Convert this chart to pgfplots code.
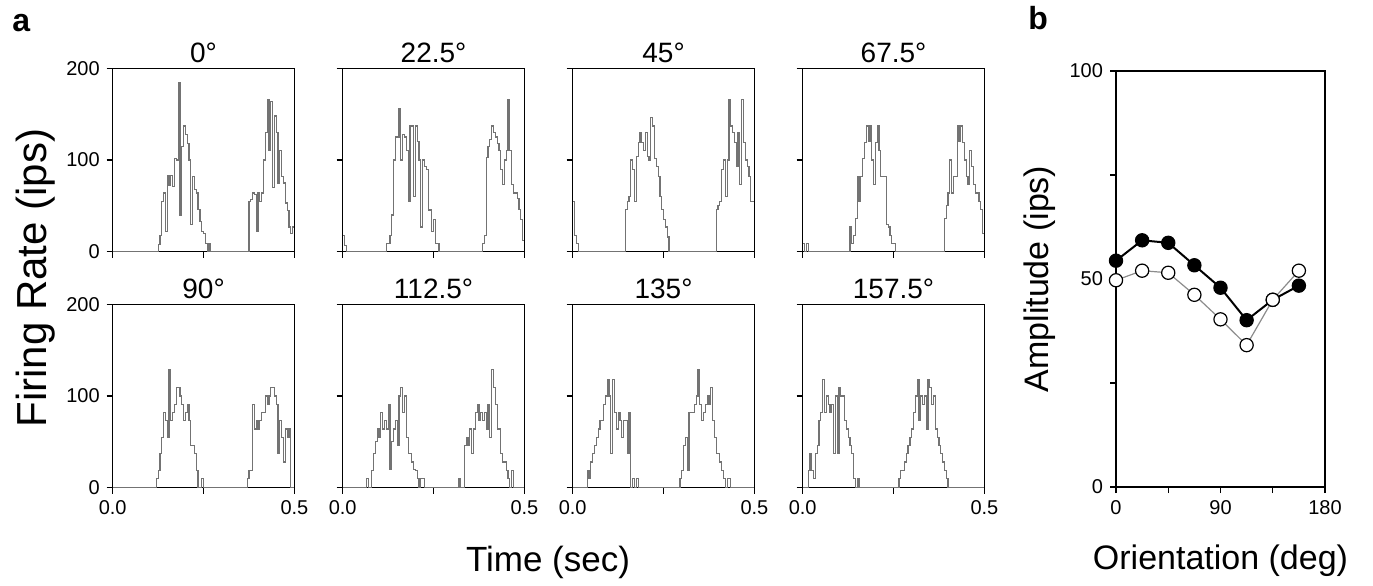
\documentclass[border=0pt]{standalone}
\usepackage{fontspec}
\setmainfont{Liberation Sans}
\usepackage{pgfplots}
\pgfplotsset{compat=1.18}

\pgfplotsset{
  frame/.style={
    scale only axis, anchor=south west,
    tick align=outside, tick pos=left, major tick length=3pt,
    axis line style={line width=0.65pt},
    every tick/.style={black, line width=0.65pt},
    tick label style={font=\fontsize{10}{11}\selectfont},
    /pgf/number format/assume math mode=true,
  },
  psth/.style={
    frame, width=90.85pt, height=91.7pt,
    xmin=0, xmax=0.5, ymin=0, ymax=200,
    xtick={0,0.25,0.5}, ytick={0,100,200},
    xticklabels={}, yticklabels={},
    title style={font=\fontsize{14}{14}\selectfont, anchor=base, inner sep=0pt,
                 at={(0.5,1)}, yshift=-3pt},
  },
  hist/.style={const plot mark left, black!55, line width=0.6pt, mark=none},
}

\begin{document}
\begin{tikzpicture}
\useasboundingbox (0pt,0pt) rectangle (686.5pt,292.5pt);

% panel labels and shared axis titles
\node[anchor=base west, inner sep=0pt, font=\bfseries\fontsize{16}{16}\selectfont] at (6pt,276.5pt) {a};
\node[anchor=base west, inner sep=0pt, font=\bfseries\fontsize{16}{16}\selectfont] at (514pt,277.5pt) {b};
\node[rotate=90, anchor=base, inner sep=0pt, font=\fontsize{21}{21}\selectfont] at (23.5pt,153.5pt) {Firing Rate (ips)};
\node[anchor=base, inner sep=0pt, font=\fontsize{17.5}{17.5}\selectfont] at (274pt,7pt) {Time (sec)};

% ---- top row ----
\begin{axis}[psth, at={(56.35pt,166.65pt)}, title={0°}, yticklabels={0,100,200}]
\addplot[hist] coordinates {(0,0) (0.120,0) (0.125,8) (0.130,18) (0.135,55) (0.140,64) (0.145,22) (0.150,83) (0.155,72) (0.160,83) (0.165,71) (0.170,102) (0.175,100) (0.180,184) (0.185,40) (0.190,115) (0.195,137) (0.200,128) (0.205,118) (0.210,100) (0.215,30) (0.220,82) (0.225,68) (0.230,64) (0.235,46) (0.240,33) (0.245,22) (0.250,20) (0.255,9) (0.260,0) (0.265,9) (0.270,0) (0.370,0) (0.375,55) (0.380,57) (0.385,64) (0.390,62) (0.395,22) (0.400,64) (0.405,55) (0.410,64) (0.415,100) (0.420,130) (0.425,166) (0.430,110) (0.435,164) (0.440,70) (0.445,148) (0.450,130) (0.455,75) (0.460,110) (0.465,82) (0.470,75) (0.475,53) (0.480,45) (0.485,27) (0.490,20) (0.495,27) (0.500,27)};
\end{axis}

\begin{axis}[psth, at={(171.35pt,166.65pt)}, title={22.5°}]
\addplot[hist] coordinates {(0,18) (0.005,7) (0.010,0) (0.115,0) (0.120,9) (0.125,9) (0.130,18) (0.135,40) (0.140,100) (0.145,125) (0.150,125) (0.155,156) (0.160,100) (0.165,128) (0.170,125) (0.175,110) (0.180,55) (0.185,137) (0.190,137) (0.195,60) (0.200,137) (0.205,120) (0.210,100) (0.215,27) (0.220,100) (0.225,93) (0.230,90) (0.235,45) (0.240,46) (0.245,22) (0.250,35) (0.255,9) (0.260,9) (0.265,0) (0.380,0) (0.385,9) (0.390,18) (0.395,103) (0.400,115) (0.405,122) (0.410,137) (0.415,130) (0.420,125) (0.425,118) (0.430,110) (0.435,90) (0.440,73) (0.445,100) (0.450,110) (0.455,166) (0.460,110) (0.465,73) (0.470,64) (0.475,64) (0.480,58) (0.485,46) (0.490,35) (0.495,12) (0.500,12)};
\end{axis}

\begin{axis}[psth, at={(286.35pt,166.65pt)}, title={45°}]
\addplot[hist] coordinates {(0,55) (0.005,18) (0.010,9) (0.015,0) (0.140,0) (0.145,46) (0.150,55) (0.155,60) (0.160,100) (0.165,90) (0.170,55) (0.175,104) (0.180,119) (0.185,130) (0.190,119) (0.195,110) (0.200,130) (0.205,104) (0.210,100) (0.215,146) (0.220,137) (0.225,102) (0.230,93) (0.235,82) (0.240,60) (0.245,46) (0.250,35) (0.255,27) (0.260,16) (0.265,0) (0.390,0) (0.395,46) (0.400,50) (0.405,55) (0.410,90) (0.415,100) (0.420,60) (0.425,100) (0.430,166) (0.435,137) (0.440,130) (0.445,119) (0.450,93) (0.455,130) (0.460,73) (0.465,166) (0.470,119) (0.475,100) (0.480,93) (0.485,82) (0.490,55) (0.495,55) (0.500,55)};
\end{axis}

\begin{axis}[psth, at={(401.35pt,166.65pt)}, title={67.5°}]
\addplot[hist] coordinates {(0,9) (0.005,0) (0.010,9) (0.015,0) (0.125,0) (0.130,27) (0.135,9) (0.140,18) (0.145,36) (0.150,82) (0.155,55) (0.160,82) (0.165,102) (0.170,119) (0.175,137) (0.180,120) (0.185,137) (0.190,100) (0.195,73) (0.200,119) (0.205,137) (0.210,110) (0.215,82) (0.220,82) (0.225,82) (0.230,30) (0.235,27) (0.240,18) (0.245,9) (0.250,9) (0.255,0) (0.385,0) (0.390,36) (0.395,50) (0.400,64) (0.405,100) (0.410,64) (0.415,82) (0.420,82) (0.425,137) (0.430,120) (0.435,137) (0.440,119) (0.445,100) (0.450,82) (0.455,73) (0.460,110) (0.465,93) (0.470,73) (0.475,64) (0.480,64) (0.485,55) (0.490,46) (0.495,20) (0.500,20)};
\end{axis}

% ---- bottom row ----
\begin{axis}[psth, at={(56.35pt,48.65pt)}, title={90°}, yticklabels={0,100,200}, xticklabels={0.0,,0.5}]
\addplot[hist] coordinates {(0,0) (0.115,0) (0.120,10) (0.125,19) (0.130,37) (0.135,55) (0.140,82) (0.145,73) (0.150,55) (0.155,129) (0.160,73) (0.165,82) (0.170,91) (0.175,109) (0.180,109) (0.185,100) (0.190,91) (0.195,73) (0.200,82) (0.205,91) (0.210,73) (0.215,46) (0.220,46) (0.225,37) (0.230,19) (0.235,0) (0.245,10) (0.250,0) (0.365,0) (0.370,10) (0.375,19) (0.380,19) (0.385,91) (0.390,64) (0.395,73) (0.400,64) (0.405,73) (0.410,82) (0.415,82) (0.420,100) (0.425,91) (0.430,100) (0.435,109) (0.440,109) (0.445,100) (0.450,91) (0.455,37) (0.460,73) (0.465,55) (0.470,28) (0.475,64) (0.480,55) (0.485,64) (0.490,0) (0.500,0)};
\end{axis}

\begin{axis}[psth, at={(171.35pt,48.65pt)}, title={112.5°}, xticklabels={0.0,,0.5}]
\addplot[hist] coordinates {(0,0) (0.060,0) (0.065,10) (0.070,0) (0.080,19) (0.085,37) (0.090,50) (0.095,64) (0.100,55) (0.105,82) (0.110,64) (0.115,73) (0.120,64) (0.125,91) (0.130,20) (0.135,50) (0.140,64) (0.145,73) (0.150,46) (0.155,100) (0.160,109) (0.165,82) (0.170,100) (0.175,55) (0.180,37) (0.185,37) (0.190,28) (0.195,20) (0.200,19) (0.205,10) (0.210,0) (0.215,10) (0.220,10) (0.225,0) (0.315,0) (0.320,10) (0.325,0) (0.335,46) (0.340,55) (0.345,46) (0.350,64) (0.355,37) (0.360,64) (0.365,82) (0.370,91) (0.375,73) (0.380,82) (0.385,73) (0.390,82) (0.395,64) (0.400,91) (0.405,55) (0.410,129) (0.415,109) (0.420,91) (0.425,64) (0.430,64) (0.435,37) (0.440,28) (0.445,28) (0.450,19) (0.455,10) (0.460,0) (0.465,19) (0.470,0) (0.500,0)};
\end{axis}

\begin{axis}[psth, at={(286.35pt,48.65pt)}, title={135°}, xticklabels={0.0,,0.5}]
\addplot[hist] coordinates {(0,0) (0.035,0) (0.040,19) (0.045,10) (0.050,28) (0.055,37) (0.060,46) (0.065,55) (0.070,64) (0.075,73) (0.080,73) (0.085,91) (0.090,100) (0.095,118) (0.100,100) (0.105,37) (0.110,118) (0.115,82) (0.120,64) (0.125,82) (0.130,73) (0.135,55) (0.140,73) (0.145,73) (0.150,37) (0.155,82) (0.160,0) (0.165,10) (0.170,0) (0.175,10) (0.180,0) (0.290,0) (0.295,10) (0.300,19) (0.305,46) (0.310,55) (0.315,19) (0.320,82) (0.325,82) (0.330,82) (0.335,91) (0.340,100) (0.345,129) (0.350,91) (0.355,73) (0.360,82) (0.365,91) (0.370,100) (0.375,91) (0.380,109) (0.385,73) (0.390,55) (0.395,37) (0.400,37) (0.405,28) (0.410,19) (0.415,10) (0.420,0) (0.425,10) (0.430,10) (0.435,0) (0.500,0)};
\end{axis}

\begin{axis}[psth, at={(401.35pt,48.65pt)}, title={157.5°}, xticklabels={0.0,,0.5}]
\addplot[hist] coordinates {(0,0) (0.010,0) (0.015,19) (0.020,37) (0.025,19) (0.030,10) (0.035,37) (0.040,46) (0.045,73) (0.050,82) (0.055,118) (0.060,82) (0.065,100) (0.070,91) (0.075,82) (0.080,91) (0.085,37) (0.090,100) (0.095,37) (0.100,109) (0.105,100) (0.110,100) (0.115,73) (0.120,64) (0.125,55) (0.130,46) (0.135,37) (0.140,10) (0.145,0) (0.150,10) (0.155,0) (0.260,0) (0.265,10) (0.270,19) (0.275,19) (0.280,28) (0.285,37) (0.290,46) (0.295,55) (0.300,64) (0.305,82) (0.310,100) (0.315,118) (0.320,73) (0.325,100) (0.330,91) (0.335,100) (0.340,64) (0.345,118) (0.350,109) (0.355,91) (0.360,100) (0.365,64) (0.370,55) (0.375,46) (0.380,37) (0.385,28) (0.390,19) (0.395,10) (0.400,0) (0.500,0)};
\end{axis}

% ---- panel b: tuning curves ----
\begin{axis}[frame, at={(558pt,49pt)}, width=104.5pt, height=208pt,
  xmin=0, xmax=180, ymin=0, ymax=100,
  xtick={0,45,90,135,180}, xticklabels={0,,90,,180},
  ytick={0,25,50,75,100}, yticklabels={0,,50,,100},
  xlabel={Orientation (deg)}, ylabel={Amplitude (ips)},
  xlabel style={font=\fontsize{17}{17}\selectfont, at={(axis description cs:0.5,0)},
                anchor=base, inner sep=0pt, yshift=-41pt},
  ylabel style={font=\fontsize{17}{17}\selectfont},
  clip=false]
\addplot[black, line width=1pt, mark=*, mark size=3.3pt, mark options={fill=black, line width=0.6pt}]
  coordinates {(0,54.4) (22.5,59.3) (45,58.7) (67.5,53.3) (90,47.9) (112.5,40.1) (135,45.0) (157.5,48.4)};
\addplot[black!45, line width=0.6pt, mark=*, mark size=3.3pt, mark options={fill=white, draw=black, line width=0.6pt}]
  coordinates {(0,49.7) (22.5,52.0) (45,51.5) (67.5,46.2) (90,40.3) (112.5,34.1) (135,45.0) (157.5,52.0)};
\end{axis}
\end{tikzpicture}
\end{document}
